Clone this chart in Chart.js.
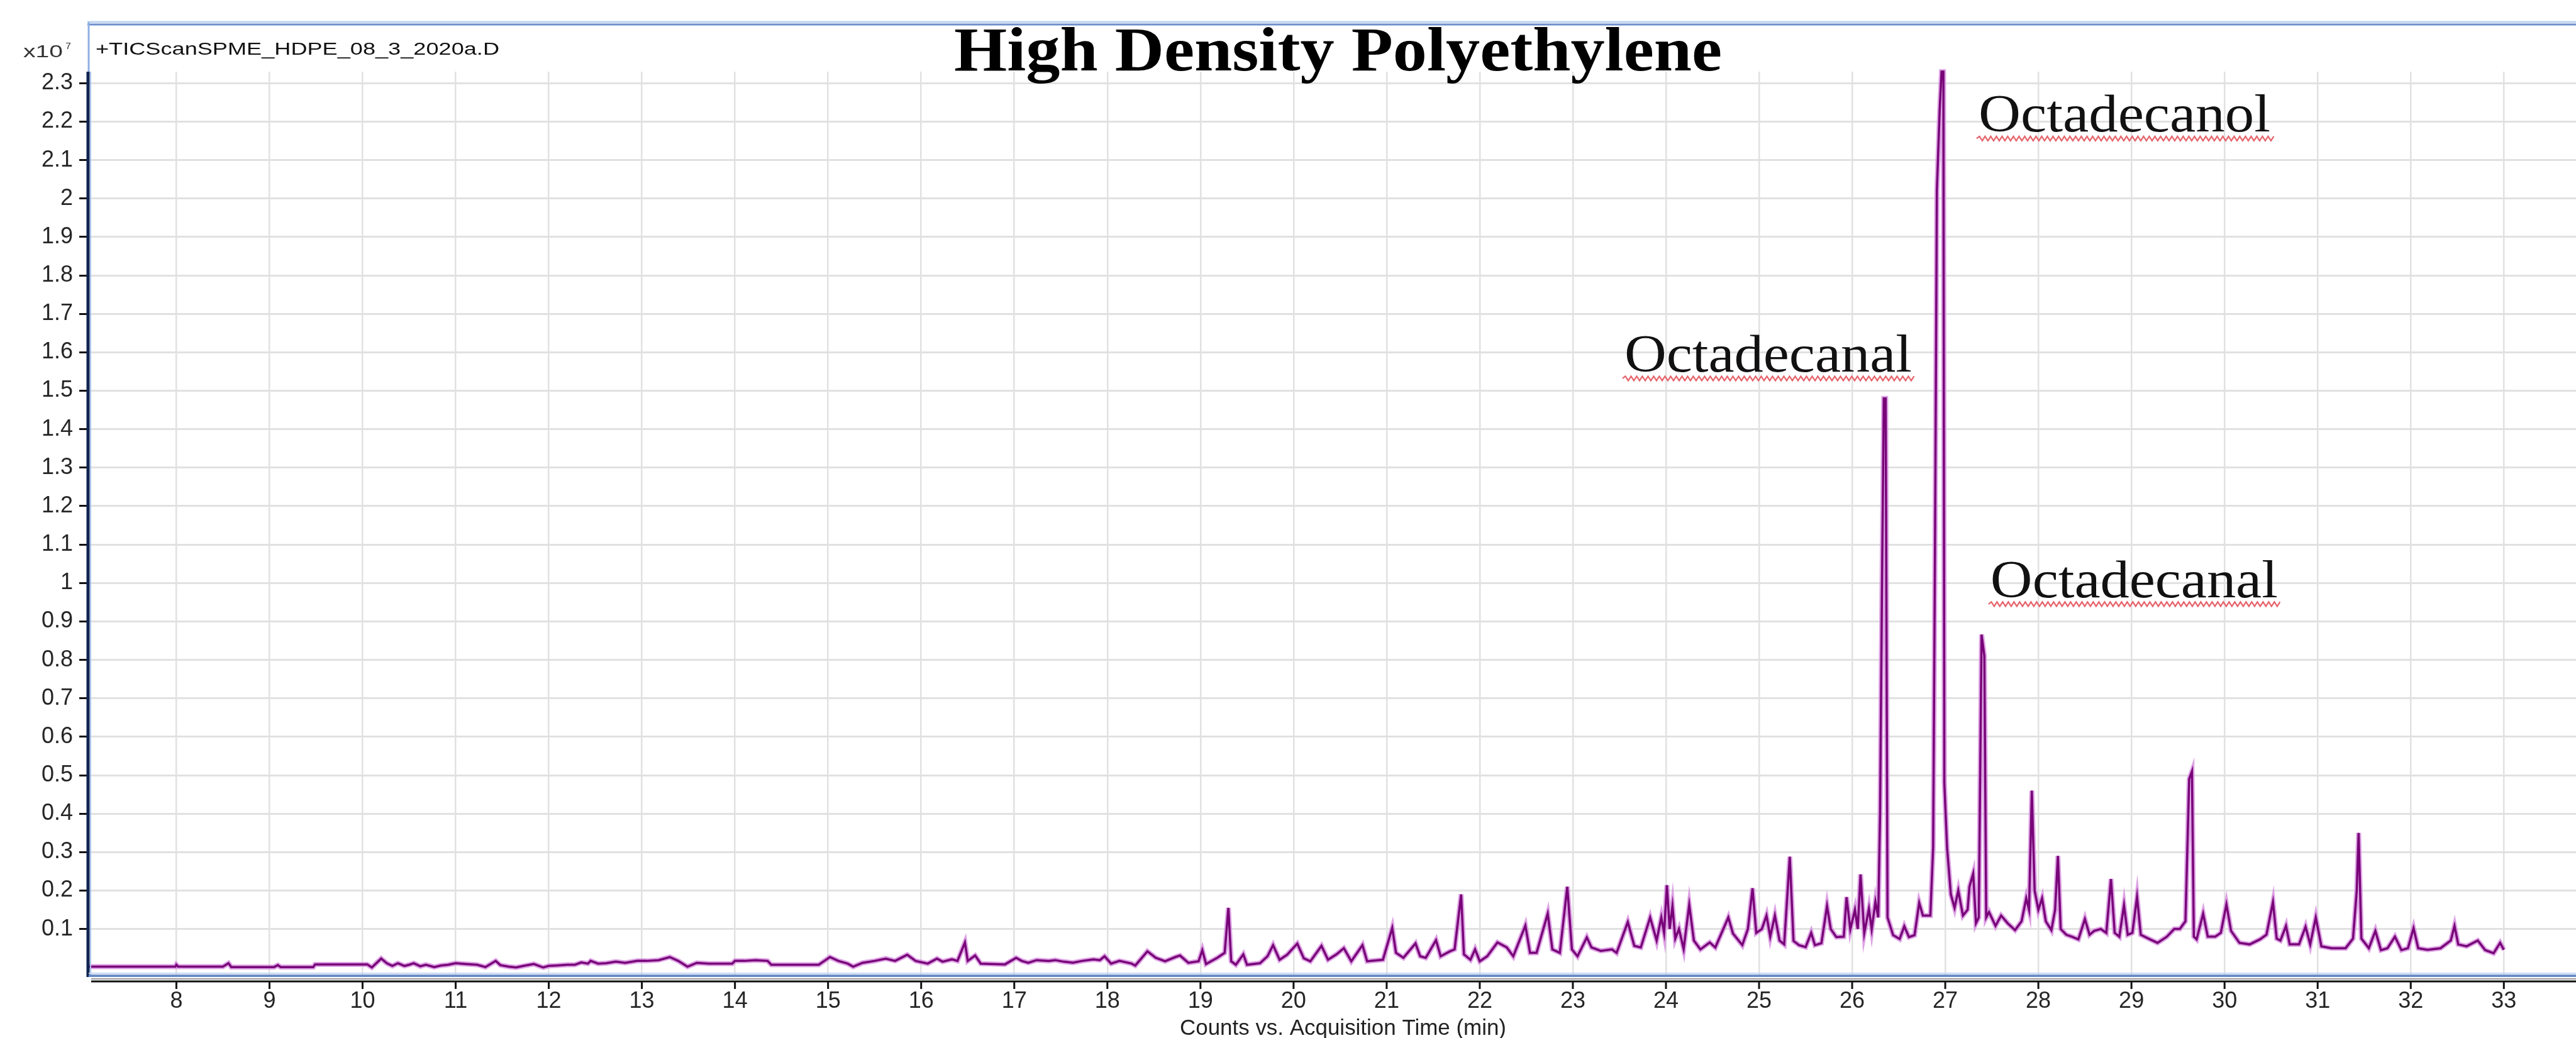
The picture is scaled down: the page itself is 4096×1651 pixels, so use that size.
<!DOCTYPE html>
<html>
<head>
<meta charset="utf-8">
<script src="https://cdn.jsdelivr.net/npm/chart.js@4.4.1/dist/chart.umd.min.js"></script>
<style>
  html, body { margin: 0; padding: 0; background: #fff; }
  #wrap { width: 4096px; height: 1651px; position: relative; }
</style>
</head>
<body>
<div id="wrap"><canvas id="tic"></canvas></div>
<script>
// retention time (min) and abundance (x10^7 counts) in pieces
var rtA = [7.06, 7.5, 7.99, 8.0, 8.02, 8.5, 8.56, 8.59, 9.05, 9.09, 9.12, 9.47, 9.49, 10.05, 10.1, 10.2, 10.26, 10.32, 10.38, 10.45,
           10.5, 10.55, 10.62, 10.68, 10.77, 10.84, 10.92, 11.0, 11.1, 11.23, 11.32, 11.43, 11.48, 11.57, 11.65, 11.73, 11.84, 11.94, 12.0, 12.08,
           12.2, 12.28, 12.35, 12.42, 12.45, 12.53];
var ticA = [0.002, 0.002, 0.002, 0.007, 0.002, 0.002, 0.011, 0.001, 0.001, 0.006, 0.001, 0.001, 0.008, 0.008, 0.0, 0.023, 0.011, 0.004, 0.011, 0.004,
            0.007, 0.011, 0.003, 0.007, 0.001, 0.005, 0.007, 0.011, 0.009, 0.007, 0.001, 0.017, 0.006, 0.002, 0.0, 0.004, 0.009, 0.0, 0.004, 0.005,
            0.007, 0.007, 0.013, 0.01, 0.017, 0.01];

var rtB = [12.62, 12.72, 12.82, 12.95, 13.05, 13.18, 13.3, 13.39, 13.49, 13.59, 13.72, 13.97, 14.0, 14.1, 14.22, 14.35, 14.39, 14.9, 14.96, 15.02,
           15.11, 15.21, 15.27, 15.37, 15.5, 15.62, 15.72, 15.85, 15.94, 16.07, 16.17, 16.23, 16.33, 16.39, 16.47, 16.5, 16.58, 16.64, 16.9, 17.02,
           17.08, 17.15, 17.24, 17.37, 17.44, 17.53, 17.63, 17.73, 17.85, 17.92, 17.97, 18.04, 18.13, 18.26, 18.3];
var ticB = [0.011, 0.015, 0.012, 0.017, 0.017, 0.019, 0.027, 0.017, 0.002, 0.012, 0.01, 0.01, 0.017, 0.017, 0.019, 0.017, 0.007, 0.007, 0.017, 0.027,
            0.017, 0.01, 0.002, 0.012, 0.017, 0.023, 0.017, 0.033, 0.017, 0.01, 0.023, 0.015, 0.021, 0.017, 0.065, 0.017, 0.031, 0.01, 0.008, 0.025,
            0.017, 0.012, 0.019, 0.017, 0.019, 0.015, 0.0125, 0.017, 0.021, 0.019, 0.029, 0.01, 0.017, 0.01, 0.005];

var rtC = [18.43, 18.52, 18.62, 18.73, 18.78, 18.87, 18.98, 19.02, 19.06, 19.18, 19.26, 19.3, 19.33, 19.38, 19.46, 19.5, 19.64, 19.72, 19.78, 19.85,
           19.93, 20.04, 20.11, 20.18, 20.3, 20.37, 20.46, 20.54, 20.62, 20.74, 20.79, 20.96, 21.06, 21.1, 21.18, 21.31, 21.36, 21.42, 21.53, 21.58,
           21.68, 21.73, 21.8, 21.83, 21.9, 21.95, 22.0, 22.08, 22.19, 22.29, 22.36, 22.49, 22.54, 22.61];
var ticC = [0.042, 0.025, 0.016, 0.027, 0.031, 0.012, 0.016, 0.045, 0.009, 0.025, 0.038, 0.155, 0.016, 0.007, 0.034, 0.007, 0.011, 0.029, 0.058, 0.02,
            0.033, 0.062, 0.024, 0.016, 0.056, 0.02, 0.034, 0.05, 0.016, 0.058, 0.016, 0.02, 0.103, 0.038, 0.025, 0.0625, 0.029, 0.025, 0.071, 0.029,
            0.042, 0.047, 0.19, 0.034, 0.02, 0.047, 0.016, 0.029, 0.065, 0.052, 0.029, 0.109, 0.038, 0.038];

var rtD = [22.73, 22.78, 22.86, 22.94, 22.99, 23.05, 23.15, 23.2, 23.3, 23.42, 23.47, 23.59, 23.66, 23.73, 23.83, 23.9, 23.95, 23.98, 24.01, 24.04,
           24.07, 24.1, 24.14, 24.19, 24.25, 24.3, 24.37, 24.47, 24.53, 24.67, 24.72, 24.82, 24.88, 24.93, 24.97, 25.03, 25.08, 25.12, 25.17, 25.22,
           25.27, 25.33, 25.37, 25.43, 25.5, 25.56, 25.6, 25.67, 25.73, 25.77, 25.83, 25.91, 25.94, 25.98, 26.03, 26.06, 26.09, 26.13, 26.18, 26.21,
           26.25];
var ticD = [0.14, 0.047, 0.038, 0.21, 0.047, 0.029, 0.078, 0.052, 0.043, 0.047, 0.038, 0.118, 0.056, 0.052, 0.13, 0.07, 0.13, 0.09, 0.214, 0.1,
            0.16, 0.075, 0.1, 0.048, 0.163, 0.07, 0.047, 0.065, 0.052, 0.13, 0.088, 0.058, 0.1, 0.206, 0.09, 0.1, 0.135, 0.08, 0.135, 0.07,
            0.06, 0.288, 0.069, 0.058, 0.053, 0.09, 0.058, 0.063, 0.16, 0.1, 0.079, 0.08, 0.183, 0.099, 0.15, 0.1, 0.242, 0.089, 0.153, 0.099,
            0.171];

// big peaks: octadecanal, octadecanol, octadecanal
var rtE = [26.28, 26.3, 26.32, 26.34, 26.36, 26.38, 26.44, 26.51, 26.56, 26.61, 26.67, 26.72, 26.76, 26.84, 26.87, 26.89, 26.91, 26.94, 26.96, 26.98,
           26.99, 27.02, 27.06, 27.1, 27.14, 27.19, 27.24, 27.26, 27.3, 27.33, 27.36, 27.39, 27.42, 27.44, 27.47];
var ticE = [0.13, 0.4, 0.98, 1.48, 1.48, 0.13, 0.084, 0.074, 0.107, 0.079, 0.084, 0.168, 0.135, 0.135, 0.313, 1.09, 2.02, 2.23, 2.33, 2.33,
            0.48, 0.31, 0.19, 0.155, 0.2, 0.135, 0.15, 0.21, 0.244, 0.115, 0.13, 0.866, 0.81, 0.13, 0.144];

var rtF = [27.54, 27.6, 27.67, 27.75, 27.82, 27.87, 27.9, 27.93, 27.96, 28.0, 28.04, 28.08, 28.14, 28.18, 28.21, 28.24, 28.3, 28.36, 28.43, 28.5,
           28.55, 28.6, 28.67, 28.73, 28.78, 28.82, 28.87, 28.92, 28.96, 29.01, 29.06, 29.1, 29.2, 29.28, 29.38, 29.46, 29.52, 29.58, 29.62, 29.65,
           29.67, 29.7, 29.77, 29.82, 29.9, 29.96, 30.02, 30.07, 30.16, 30.27, 30.38, 30.45, 30.52, 30.56, 30.6, 30.66, 30.7, 30.8, 30.87, 30.92,
           30.98, 31.04, 31.15, 31.3, 31.38, 31.42, 31.44, 31.47, 31.55, 31.62, 31.68, 31.75, 31.83, 31.9, 31.97, 32.03, 32.08, 32.18, 32.32, 32.43,
           32.47, 32.51, 32.6, 32.72, 32.8, 32.89, 32.96, 33.0];
var ticF = [0.108, 0.135, 0.115, 0.097, 0.12, 0.18, 0.15, 0.46, 0.2, 0.15, 0.18, 0.12, 0.097, 0.15, 0.29, 0.1, 0.085, 0.08, 0.073, 0.126,
            0.085, 0.095, 0.1, 0.09, 0.23, 0.09, 0.08, 0.162, 0.085, 0.09, 0.184, 0.085, 0.073, 0.064, 0.08, 0.1, 0.1, 0.12, 0.49, 0.51,
            0.08, 0.073, 0.14, 0.08, 0.08, 0.09, 0.164, 0.095, 0.064, 0.06, 0.073, 0.085, 0.17, 0.075, 0.07, 0.108, 0.06, 0.06, 0.106, 0.06,
            0.13, 0.055, 0.05, 0.05, 0.075, 0.2, 0.35, 0.075, 0.05, 0.095, 0.045, 0.05, 0.08, 0.045, 0.05, 0.102, 0.05, 0.046, 0.05, 0.07,
            0.108, 0.06, 0.055, 0.07, 0.045, 0.037, 0.064, 0.046];

var xTicks = [8, 9, 10, 11, 12, 13, 14, 15, 16, 17, 18, 19, 20, 21, 22, 23, 24, 25, 26, 27, 28, 29, 30, 31, 32, 33];
var yTicks = [0.1, 0.2, 0.3, 0.4, 0.5, 0.6, 0.7, 0.8, 0.9, 1, 1.1, 1.2, 1.3, 1.4, 1.5, 1.6, 1.7, 1.8, 1.9, 2, 2.1, 2.2, 2.3];

var chartTitle = 'High Density Polyethylene';
var traceName = '+TICScanSPME_HDPE_08_3_2020a.D';
var xTitle = 'Counts vs. Acquisition Time (min)';
// peak labels: text, time and abundance of the text's left baseline corner
var peakNames = ['Octadecanol', 'Octadecanal', 'Octadecanal'];
var peakNameRt = [27.357, 23.554, 27.485];
var peakNameTic = [2.174, 1.55, 0.963];

var rt = rtA.concat(rtB, rtC, rtD, rtE, rtF);
var tic = ticA.concat(ticB, ticC, ticD, ticE, ticF);
var points = [];
for (var i = 0; i < Math.min(rt.length, tic.length); i++) {
  points.push({ x: rt[i], y: tic[i] });
}

// draws text squeezed or stretched to a given width
function fitText(ctx, txt, x, y, font, width, color) {
  ctx.save();
  ctx.font = font;
  ctx.fillStyle = color || '#000';
  ctx.textBaseline = 'alphabetic';
  ctx.textAlign = 'left';
  var w = ctx.measureText(txt).width;
  ctx.translate(x, y);
  ctx.scale(width / w, 1);
  ctx.fillText(txt, 0, 0);
  ctx.restore();
}

function hline(ctx, x1, x2, y, color, lw) {
  ctx.beginPath();
  ctx.strokeStyle = color;
  ctx.lineWidth = lw;
  ctx.moveTo(x1, y);
  ctx.lineTo(x2, y);
  ctx.stroke();
}

function vline(ctx, x, y1, y2, color, lw) {
  ctx.beginPath();
  ctx.strokeStyle = color;
  ctx.lineWidth = lw;
  ctx.moveTo(x, y1);
  ctx.lineTo(x, y2);
  ctx.stroke();
}

function squiggle(ctx, x1, x2, y) {
  ctx.save();
  ctx.beginPath();
  ctx.strokeStyle = '#e6636b';
  ctx.lineWidth = 2.2;
  var up = true;
  ctx.moveTo(x1, y);
  for (var x = x1 + 4.5; x <= x2; x += 4.5) {
    ctx.lineTo(x, up ? y - 3.5 : y + 3.5);
    up = !up;
  }
  ctx.stroke();
  ctx.restore();
}

var framePlugin = {
  id: 'frame',
  afterDraw: function(chart) {
    var c = chart.ctx;
    var ca = chart.chartArea;
    var W = chart.width;
    var xs = chart.scales.x, ys = chart.scales.y;
    c.save();

    // window frame on top and left
    hline(c, ca.left - 2, W, 35, '#bdd3f2', 3);
    hline(c, ca.left - 2, W, 39, '#6f8fcb', 3);
    vline(c, ca.left, 35, ca.top, '#8fb0e3', 3);

    // y axis line
    vline(c, ca.left - 1, ca.top, ca.bottom + 3, '#10244f', 5);
    vline(c, ca.left + 3, ca.top, ca.bottom, '#a8c4ee', 2);

    // bottom of plot and x axis line
    hline(c, ca.left, W, ca.bottom - 3, '#c3d6f3', 2);
    hline(c, ca.left, W, ca.bottom + 1, '#6b8cc7', 4);
    hline(c, ca.left + 4, W, ca.bottom + 6, '#9a9a9a', 2);
    hline(c, ca.left + 4, W, ca.bottom + 10, '#111', 3);
    xTicks.forEach(function(v) {
      var px = xs.getPixelForValue(v);
      vline(c, px, ca.bottom + 10, ca.bottom + 22, '#111', 3);
    });

    // header texts
    fitText(c, 'x10', 37, 91, '27px "Liberation Sans"', 63, '#333');
    fitText(c, '7', 104, 78, '14px "Liberation Sans"', 9, '#333');
    fitText(c, traceName, 152, 87, '28px "Liberation Sans"', 642, '#111');
    fitText(c, chartTitle, 1517, 112, 'bold 100px "Liberation Serif"', 1221, '#000');

    // peak names with the red underline
    for (var k = 0; k < peakNames.length; k++) {
      var px = xs.getPixelForValue(peakNameRt[k]);
      var py = ys.getPixelForValue(peakNameTic[k]);
      var w = peakNames[k] === 'Octadecanol' ? 464 : 457;
      fitText(c, peakNames[k], px, py, '84px "Liberation Serif"', w, '#111');
      squiggle(c, px - 3, px + w + 6, py + 11);
    }

    fitText(c, xTitle, 1876, 1646, '35px "Liberation Sans"', 519, '#222');
    c.restore();
  }
};

var tickFont = { family: 'Liberation Sans', size: 36 };

new Chart(document.getElementById('tic').getContext('2d'), {
  type: 'line',
  data: {
    datasets: [
      { data: points, borderColor: '#780478', borderWidth: 3.5, pointRadius: 0, tension: 0, clip: false },
      { data: points, borderColor: 'rgba(214,140,222,0.8)', borderWidth: 8, pointRadius: 0, tension: 0, clip: false }
    ]
  },
  options: {
    responsive: true,
    maintainAspectRatio: false,
    animation: false,
    devicePixelRatio: 1,
    layout: { padding: { top: 114, left: 0, right: 0, bottom: 0 } },
    plugins: { legend: { display: false }, tooltip: { enabled: false } },
    scales: {
      x: {
        type: 'linear',
        min: 7.058,
        max: 33.775,
        afterBuildTicks: function(s) { s.ticks = xTicks.map(function(v) { return { value: v }; }); },
        afterFit: function(s) { s.height = 100; },
        grid: { color: '#e1e1e1', lineWidth: 2.5, drawTicks: false },
        border: { display: false },
        ticks: { padding: 20, maxRotation: 0, autoSkip: false, color: '#262626', font: tickFont,
                 callback: function(v) { return String(v); } }
      },
      y: {
        type: 'linear',
        min: -0.02,
        max: 2.33,
        afterBuildTicks: function(s) { s.ticks = yTicks.map(function(v) { return { value: v }; }); },
        afterFit: function(s) { s.width = 141; },
        grid: { color: '#e1e1e1', lineWidth: 3, tickColor: '#111', tickLength: 15, tickWidth: 3 },
        border: { display: false },
        ticks: { padding: 10, color: '#262626', font: tickFont,
                 callback: function(v) { var r = Math.round(v * 10) / 10; return r % 1 === 0 ? String(r) : r.toFixed(1); } }
      }
    }
  },
  plugins: [framePlugin]
});
</script>
</body>
</html>
